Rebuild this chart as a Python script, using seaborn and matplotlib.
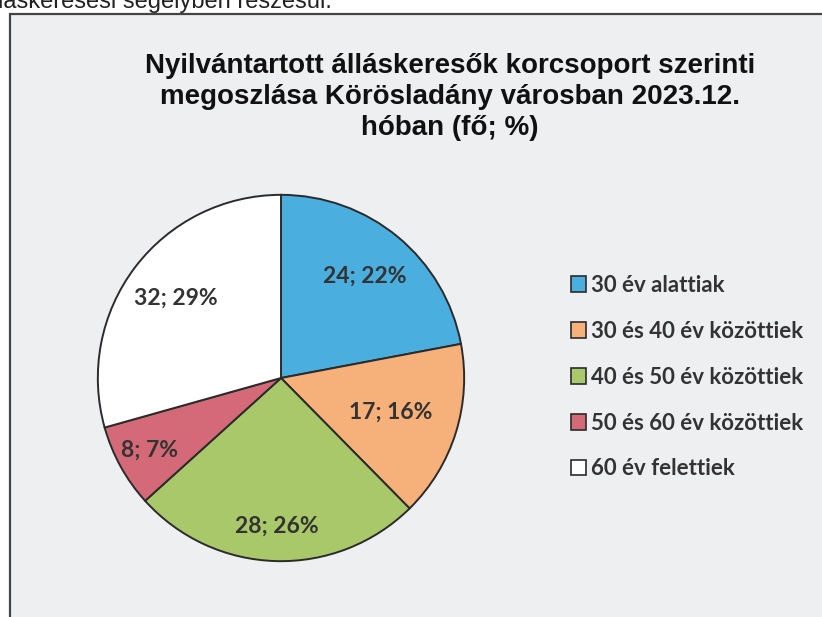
import matplotlib
matplotlib.use("Agg")
import matplotlib.pyplot as plt
import seaborn as sns
import numpy as np
from matplotlib.patches import Rectangle

# data
categories = ["30 év alattiak", "30 és 40 év közöttiek", "40 és 50 év közöttiek",
              "50 és 60 év közöttiek", "60 év felettiek"]
counts = [24, 17, 28, 8, 32]
percents = [22, 16, 26, 7, 29]
colors = ["#4aaedf", "#f6b07a", "#a9c86a", "#d46a78", "#ffffff"]
label_radius = [0.72, 0.63, 0.81, 0.82, 0.72]

title = "Nyilvántartott álláskeresők korcsoport szerinti\nmegoszlása Körösladány városban 2023.12.\nhóban (fő; %)"

sns.set_style("white")
plt.rcParams["font.family"] = ["Lato", "DejaVu Sans"]

W, H = 822, 617
fig = plt.figure(figsize=(W / 100, H / 100), dpi=100)
fig.patch.set_facecolor("white")

# chart frame (scanned page, runs off the right and bottom)
fig.patches.append(Rectangle((10 / W, -0.1), 1.2, 1 - 14 / H + 0.1, transform=fig.transFigure,
                             facecolor="#eeeff1", edgecolor="#444444", lw=1.6, zorder=-5))

# cut-off line of body text above the chart
fig.text(-2 / W, 1 - 8 / H, "láskeresési segélyben részesül.", family="Liberation Sans",
         fontsize=17, color="#222222", va="baseline", ha="left")

fig.text(450 / W, 1 - 97 / H, title, family="Liberation Sans", fontweight="bold",
         fontsize=20, color="#111111", ha="center", va="center", linespacing=1.25)

cx, cy, r = 281, 378, 185
ax = fig.add_axes([(cx - r) / W, (H - cy - r) / H, 2 * r / W, 2 * r / H])
ax.set_facecolor("none")

wedges, _ = ax.pie(counts, colors=colors, startangle=90, counterclock=False,
                   wedgeprops=dict(edgecolor="#2b2b2b", linewidth=1.4))
ax.set_xlim(-1.01, 1.01)
ax.set_ylim(-1.01, 1.01)
ax.set_aspect("equal")

for w, n, p, rr in zip(wedges, counts, percents, label_radius):
    ang = np.deg2rad((w.theta1 + w.theta2) / 2)
    ax.text(rr * np.cos(ang), rr * np.sin(ang), f"{n}; {p}%", ha="center", va="center",
            fontsize=16.5, fontweight="bold", color="#333333")

leg = fig.legend(wedges, categories, loc="upper left", bbox_to_anchor=(562 / W, 1 - 266 / H),
                 frameon=False, fontsize=16, handlelength=0.7, handleheight=0.7,
                 handletextpad=0.2, labelspacing=1.12, borderaxespad=0)
for t in leg.get_texts():
    t.set_fontweight("bold")
    t.set_color("#333333")
for h in leg.legend_handles:
    h.set_linewidth(1.2)

fig.savefig("out.png", dpi=100)
